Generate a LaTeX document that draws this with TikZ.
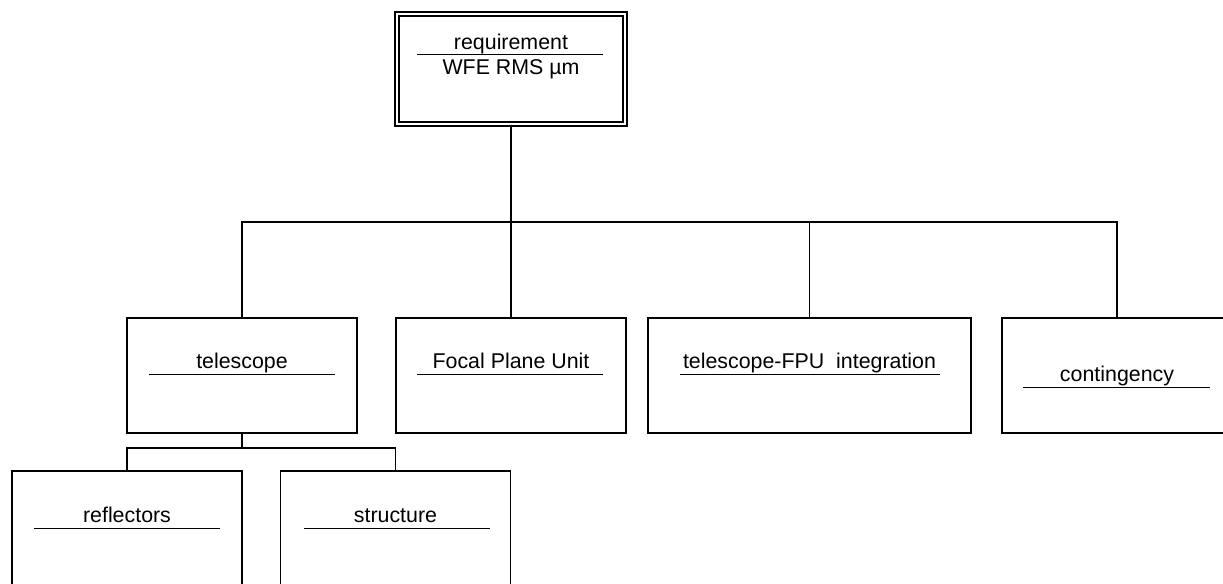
\documentclass[tikz,border=0pt]{standalone}
\usepackage{fontspec}
\setmainfont{Liberation Sans}
\usetikzlibrary{positioning, calc}

\begin{document}
\begin{tikzpicture}[
    box/.style={
        rectangle,
        draw, line width=1.2pt,
        minimum width=5.75cm,
        minimum height=2.875cm,
        inner sep=0pt
    },
    title/.style={
        anchor=base,
        inner sep=0pt,
        font=\fontsize{15.2}{18}\selectfont
    },
    rule/.style={line width=1pt},
    link/.style={line width=1.3pt}
]
    \useasboundingbox (0,0) rectangle (30.575,-14.575);

    % The top requirement ===========================
    \node[box, double, line width=0.8pt, double distance=2pt,
          minimum width=5.7cm, minimum height=2.75cm] (req) at (12.775, -1.725) {};
    \node[title] (reqTop) at ($(req.north)+(0,-0.9)$) {requirement};
    \draw[rule] ($(req.north)+(-2.35,-1.025)$) -- ++(4.65,0);
    \node[title] (reqBot) at ($(req.north)+(0,-1.525)$) {WFE RMS µm};

    % The 4 contributors ===========================
    \node[box] (tel) at (6.05, -9.3875) {};
    \node[box] (fpu) at (12.775, -9.3875) {};
    \node[box, minimum width=8.075cm] (fpi) at (20.2375, -9.3875) {};
    \node[box] (con) at (27.925, -9.3875) {};

    \node[title] (telText) at ($(tel.north)+(0,-1.28)$) {telescope};
    \draw[rule] ($(tel.north)+(-2.325,-1.44)$) -- ++(4.65,0);

    \node[title] (fpuText) at ($(fpu.north)+(0,-1.28)$) {Focal Plane Unit};
    \draw[rule] ($(fpu.north)+(-2.35,-1.44)$) -- ++(4.65,0);

    \node[title] (fpiText) at ($(fpi.north)+(0,-1.28)$) {telescope-FPU\ \ integration};
    \draw[rule] ($(fpi.north)+(-3.24,-1.44)$) -- ++(6.5,0);

    \node[title] (conText) at ($(con.north)+(0,-1.6)$) {contingency};
    \draw[rule] ($(con.north)+(-2.35,-1.76)$) -- ++(4.675,0);

    % The telescope parts ===========================
    \node[box, minimum height=3.5cm] (ref) at (3.175, -13.525) {};
    \node[box, minimum height=3.5cm] (str) at (9.8875, -13.525) {};

    \node[title] (refText) at ($(ref.north)+(0,-1.3)$) {reflectors};
    \draw[rule] ($(ref.north)+(-2.325,-1.46)$) -- ++(4.65,0);

    \node[title] (strText) at ($(str.north)+(0,-1.3)$) {structure};
    \draw[rule] ($(str.north)+(-2.3,-1.46)$) -- ++(4.65,0);

    % Tree connections ====================
    \coordinate (bus) at (0, -5.55);
    \coordinate (sub) at (0, -11.2);

    \draw[link] (req.south) -- (req.south |- bus);
    \draw[link] (tel.north) -- (tel.north |- bus) -- (con.north |- bus) -- (con.north);
    \draw[link] (fpu.north) -- (fpu.north |- bus);
    \draw[link] (fpi.north) -- (fpi.north |- bus);

    \draw[link] (tel.south) -- (tel.south |- sub);
    \draw[link] (ref.north) |- (str.north |- sub) -- (str.north);

\end{tikzpicture}
\end{document}
